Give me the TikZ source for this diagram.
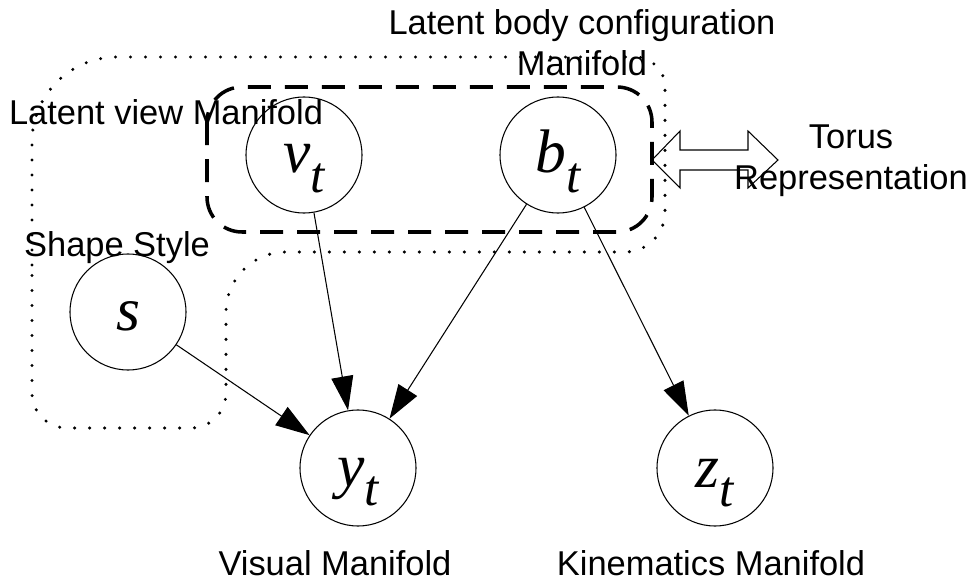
\documentclass[tikz,border=0pt]{standalone}
\usepackage{fontspec}
\setmainfont{Liberation Sans}
\newfontfamily\varfont{Liberation Serif}
\usetikzlibrary{arrows.meta}
\newcommand\varlbl[2]{{\varfont\itshape\fontsize{35}{35}\selectfont #1}\raisebox{-11.3pt}{\varfont\itshape\fontsize{29}{29}\selectfont #2}}
\begin{document}
\begin{tikzpicture}[x=0.2mm,y=-0.2mm,
  var/.style={circle,draw,line width=0.6pt,minimum size=23.2mm,inner sep=0pt},
  vlabel/.style={anchor=base,inner sep=0pt},
  caption/.style={anchor=base,inner sep=0pt,align=center,font=\fontsize{19.6}{23.6}\selectfont},
  edge/.style={line width=0.6pt,-{Triangle[length=6.8mm,width=4.4mm]}},
  dotgroup/.style={line width=1.9pt,line cap=round,dash pattern=on 0pt off 3mm},
  dashgroup/.style={line width=2pt,dash pattern=on 4.6mm off 2.8mm,rounded corners=7mm},
  dblarrow/.style={line width=0.6pt,line join=miter},
]
\useasboundingbox (0,0) rectangle (972,581);

% dotted group (view + shape)
\draw[dotgroup] (32,300) [rounded corners=17mm] -- (32,57) [rounded corners=6mm] -- (665,57)
  [rounded corners=8mm] -- (665,252) [rounded corners=12mm] -- (226,252)
  [rounded corners=7mm] -- (226,428) -- (32,428) -- cycle;

% dashed group
\draw[dashgroup] (207,87) rectangle (652,232);

% variables
\node[var] (v) at (304,155) {};
\node[var] (b) at (558,155) {};
\node[var] (s) at (128,312) {};
\node[var] (y) at (358,468) {};
\node[var] (z) at (715,468) {};

\node[vlabel] (vl) at (304,173) {\varlbl{v}{t}};
\node[vlabel] (bl) at (558,173) {\varlbl{b}{t}};
\node[vlabel] (sl) at (128,330) {{\varfont\itshape\fontsize{35}{35}\selectfont s}};
\node[vlabel] (yl) at (358,486) {\varlbl{y}{t}};
\node[vlabel] (zl) at (715,487) {\varlbl{z}{t}};

% edges
\draw[edge] (v) -- (y);
\draw[edge] (b) -- (y);
\draw[edge] (s) -- (y);
\draw[edge] (b) -- (z);

% double arrow
\coordinate (tl) at (652,160);
\coordinate (tr) at (778,160);
\draw[dblarrow] (tl) -- (680,131) -- (680,150) -- (748,150) -- (748,131) -- (tr)
  -- (748,188) -- (748,170) -- (680,170) -- (680,188) -- cycle;

% captions
\node[caption] (cbody) at (582,76) {Latent body configuration\\Manifold};
\node[caption] (cview) at (166,125) {Latent view Manifold};
\node[caption] (cshape) at (117,257) {Shape Style};
\node[caption] (ctorus) at (851,190) {Torus\\Representation};
\node[caption] (cvis) at (335,575) {Visual Manifold};
\node[caption] (ckin) at (711,575) {Kinematics Manifold};
\end{tikzpicture}
\end{document}
